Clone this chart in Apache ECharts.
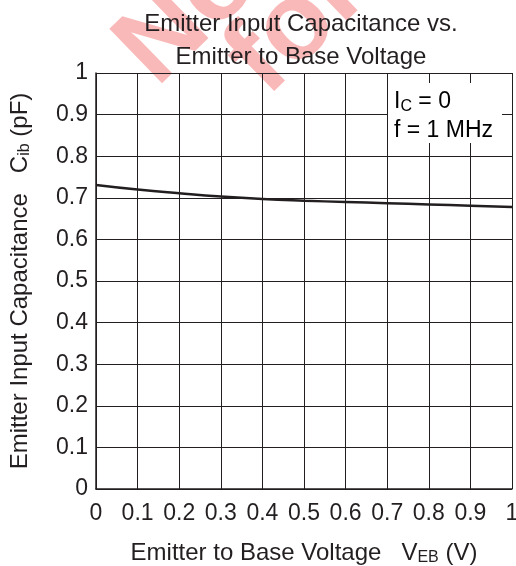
<!DOCTYPE html>
<html>
<head>
<meta charset="utf-8">
<script src="https://cdn.jsdelivr.net/npm/echarts@6/dist/echarts.min.js"></script>
<style>
  html, body { margin: 0; padding: 0; background: #fff; }
  #chart { width: 516px; height: 566px; }
</style>
</head>
<body>
<div id="chart"></div>
<script>
// --- data ---
const vebValues = [0, 0.1, 0.2, 0.3, 0.4, 0.5, 0.6, 0.7, 0.8, 0.9, 1.0]
const cibValues = [0.731, 0.720, 0.711, 0.703, 0.697, 0.693, 0.690, 0.687, 0.684, 0.681, 0.678]
const yTicks = [0, 0.1, 0.2, 0.3, 0.4, 0.5, 0.6, 0.7, 0.8, 0.9, 1]
const xTicks = [0, 0.1, 0.2, 0.3, 0.4, 0.5, 0.6, 0.7, 0.8, 0.9, 1]

const FONT = 'Liberation Sans, Arial, sans-serif'
const INK = '#231f20'
const FS = 23

const chart = echarts.init(document.getElementById('chart'))

// tick label text: 0 and 1 without decimals
const fmt = v => (v === 0 || v === 1) ? String(v) : v.toFixed(1)

const subRich = {
  m: { fontFamily: FONT, fontSize: 24, color: INK, lineHeight: 28 },
  s: { fontFamily: FONT, fontSize: 16, color: INK, lineHeight: 28, padding: [10, 0, 0, 0] }
}

const WM = 'rgba(242, 70, 70, 0.38)'

const option = {
  backgroundColor: '#fff',
  animation: false,
  title: {
    text: 'Emitter Input Capacitance vs.\nEmitter to Base Voltage',
    left: 296,
    textAlign: 'center',
    top: 3,
    textStyle: { fontFamily: FONT, fontSize: 24, fontWeight: 'normal', color: INK, lineHeight: 33 }
  },
  graphic: [
    // faded red watermark fragments behind the title
    {
      type: 'text',
      z: -10,
      x: 174, y: 106,
      rotation: 0.77,
      style: {
        text: 'Not',
        font: 'bold 110px ' + FONT,
        verticalAlign: 'bottom',
        fill: WM
      }
    },
    {
      type: 'text',
      z: -10,
      x: 284, y: 116,
      rotation: 0.77,
      style: {
        text: 'for',
        font: 'bold 110px ' + FONT,
        verticalAlign: 'bottom',
        fill: WM
      }
    },
    // condition box
    {
      type: 'rect',
      z: 10,
      shape: { x: 388, y: 83, width: 114, height: 60 },
      style: { fill: '#fff' }
    },
    {
      type: 'text',
      z: 11,
      x: 394, y: 87,
      style: {
        text: '{m|I}{s|C}{m| = 0}\n{m|f = 1 MHz}',
        rich: {
          m: { fontFamily: FONT, fontSize: FS, color: INK, lineHeight: 29 },
          s: { fontFamily: FONT, fontSize: 16, color: INK, lineHeight: 29, padding: [10, 0, 0, 0] }
        }
      }
    }
  ],
  grid: { left: 96, right: 4, top: 73, bottom: 77, outerBoundsMode: 'none', containLabel: false },
  xAxis: {
    type: 'value',
    min: 0, max: 1, interval: 0.1,
    name: '{m|Emitter to Base Voltage   V}{s|EB}{m| (V)}',
    nameLocation: 'middle',
    nameGap: 50,
    nameTextStyle: { rich: subRich },
    axisLine: { show: true, lineStyle: { color: INK, width: 1.5 } },
    axisTick: { show: false },
    axisLabel: {
      fontFamily: FONT, fontSize: FS, color: INK, margin: 13,
      formatter: v => fmt(v)
    },
    splitLine: { show: true, lineStyle: { color: INK, width: 1 } }
  },
  yAxis: {
    type: 'value',
    min: 0, max: 1, interval: 0.1,
    name: '{m|Emitter Input Capacitance   C}{s|ib}{m| (pF)}',
    nameLocation: 'middle',
    nameGap: 62,
    nameTextStyle: { rich: subRich },
    axisLine: { show: true, lineStyle: { color: INK, width: 1.5 } },
    axisTick: { show: false },
    axisLabel: {
      fontFamily: FONT, fontSize: FS, color: INK, margin: 8,
      formatter: v => fmt(v)
    },
    splitLine: { show: true, lineStyle: { color: INK, width: 1 } }
  },
  series: [{
    type: 'line',
    data: vebValues.map((v, i) => [v, cibValues[i]]),
    smooth: true,
    showSymbol: false,
    lineStyle: { color: INK, width: 2.5 },
    z: 5
  }]
}

chart.setOption(option)
</script>
</body>
</html>
